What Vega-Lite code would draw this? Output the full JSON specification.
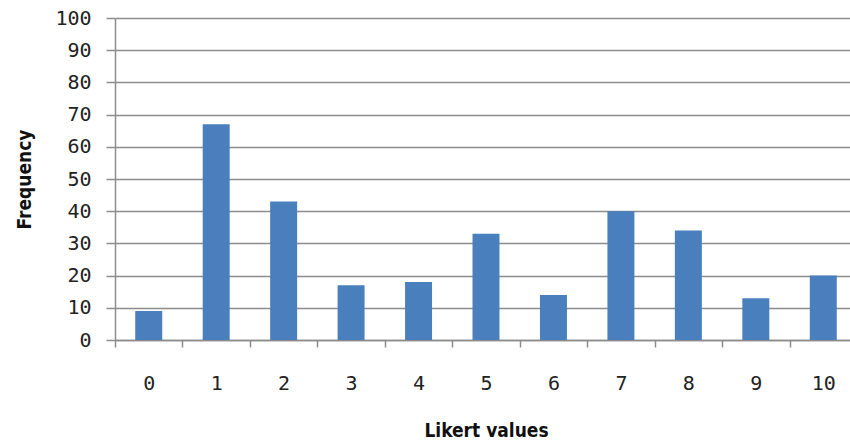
{
  "$schema": "https://vega.github.io/schema/vega-lite/v6.json",
  "width": 742,
  "height": 322,
  "autosize": "none",
  "padding": {"left": 115, "top": 18, "right": 0, "bottom": 102},
  "background": "white",
  "config": {
    "view": {"stroke": null},
    "font": "DejaVu Sans"
  },
  "data": {
    "values": [
      {"likert": "0", "frequency": 9},
      {"likert": "1", "frequency": 67},
      {"likert": "2", "frequency": 43},
      {"likert": "3", "frequency": 17},
      {"likert": "4", "frequency": 18},
      {"likert": "5", "frequency": 33},
      {"likert": "6", "frequency": 14},
      {"likert": "7", "frequency": 40},
      {"likert": "8", "frequency": 34},
      {"likert": "9", "frequency": 13},
      {"likert": "10", "frequency": 20}
    ]
  },
  "mark": {"type": "bar", "color": "#4a7fbd", "width": {"band": 0.4}},
  "encoding": {
    "x": {
      "field": "likert",
      "type": "ordinal",
      "sort": null,
      "scale": {"paddingInner": 0, "paddingOuter": 0},
      "axis": {
        "title": "Likert values",
        "labelAngle": 0,
        "tickBand": "extent",
        "domainColor": "#8c8c8c",
        "domainWidth": 1.5,
        "tickColor": "#8c8c8c",
        "tickWidth": 1.5,
        "tickSize": 7,
        "labelPadding": 26,
        "labelFont": "DejaVu Sans Mono",
        "labelFontSize": 20,
        "labelColor": "#222222",
        "titleFont": "DejaVu Sans Condensed",
        "titleFontSize": 19,
        "titleFontWeight": "bold",
        "titleColor": "#111111",
        "titlePadding": 28
      }
    },
    "y": {
      "field": "frequency",
      "type": "quantitative",
      "scale": {"domain": [0, 100]},
      "axis": {
        "title": "Frequency",
        "values": [0, 10, 20, 30, 40, 50, 60, 70, 80, 90, 100],
        "grid": true,
        "gridColor": "#8c8c8c",
        "gridWidth": 1.5,
        "domainColor": "#8c8c8c",
        "domainWidth": 1.5,
        "tickColor": "#8c8c8c",
        "tickWidth": 1.5,
        "tickSize": 9,
        "labelPadding": 15,
        "labelFont": "DejaVu Sans Mono",
        "labelFontSize": 20,
        "labelColor": "#222222",
        "titleFont": "DejaVu Sans Condensed",
        "titleFontSize": 19,
        "titleFontWeight": "bold",
        "titleColor": "#111111",
        "titlePadding": 20
      }
    }
  }
}
